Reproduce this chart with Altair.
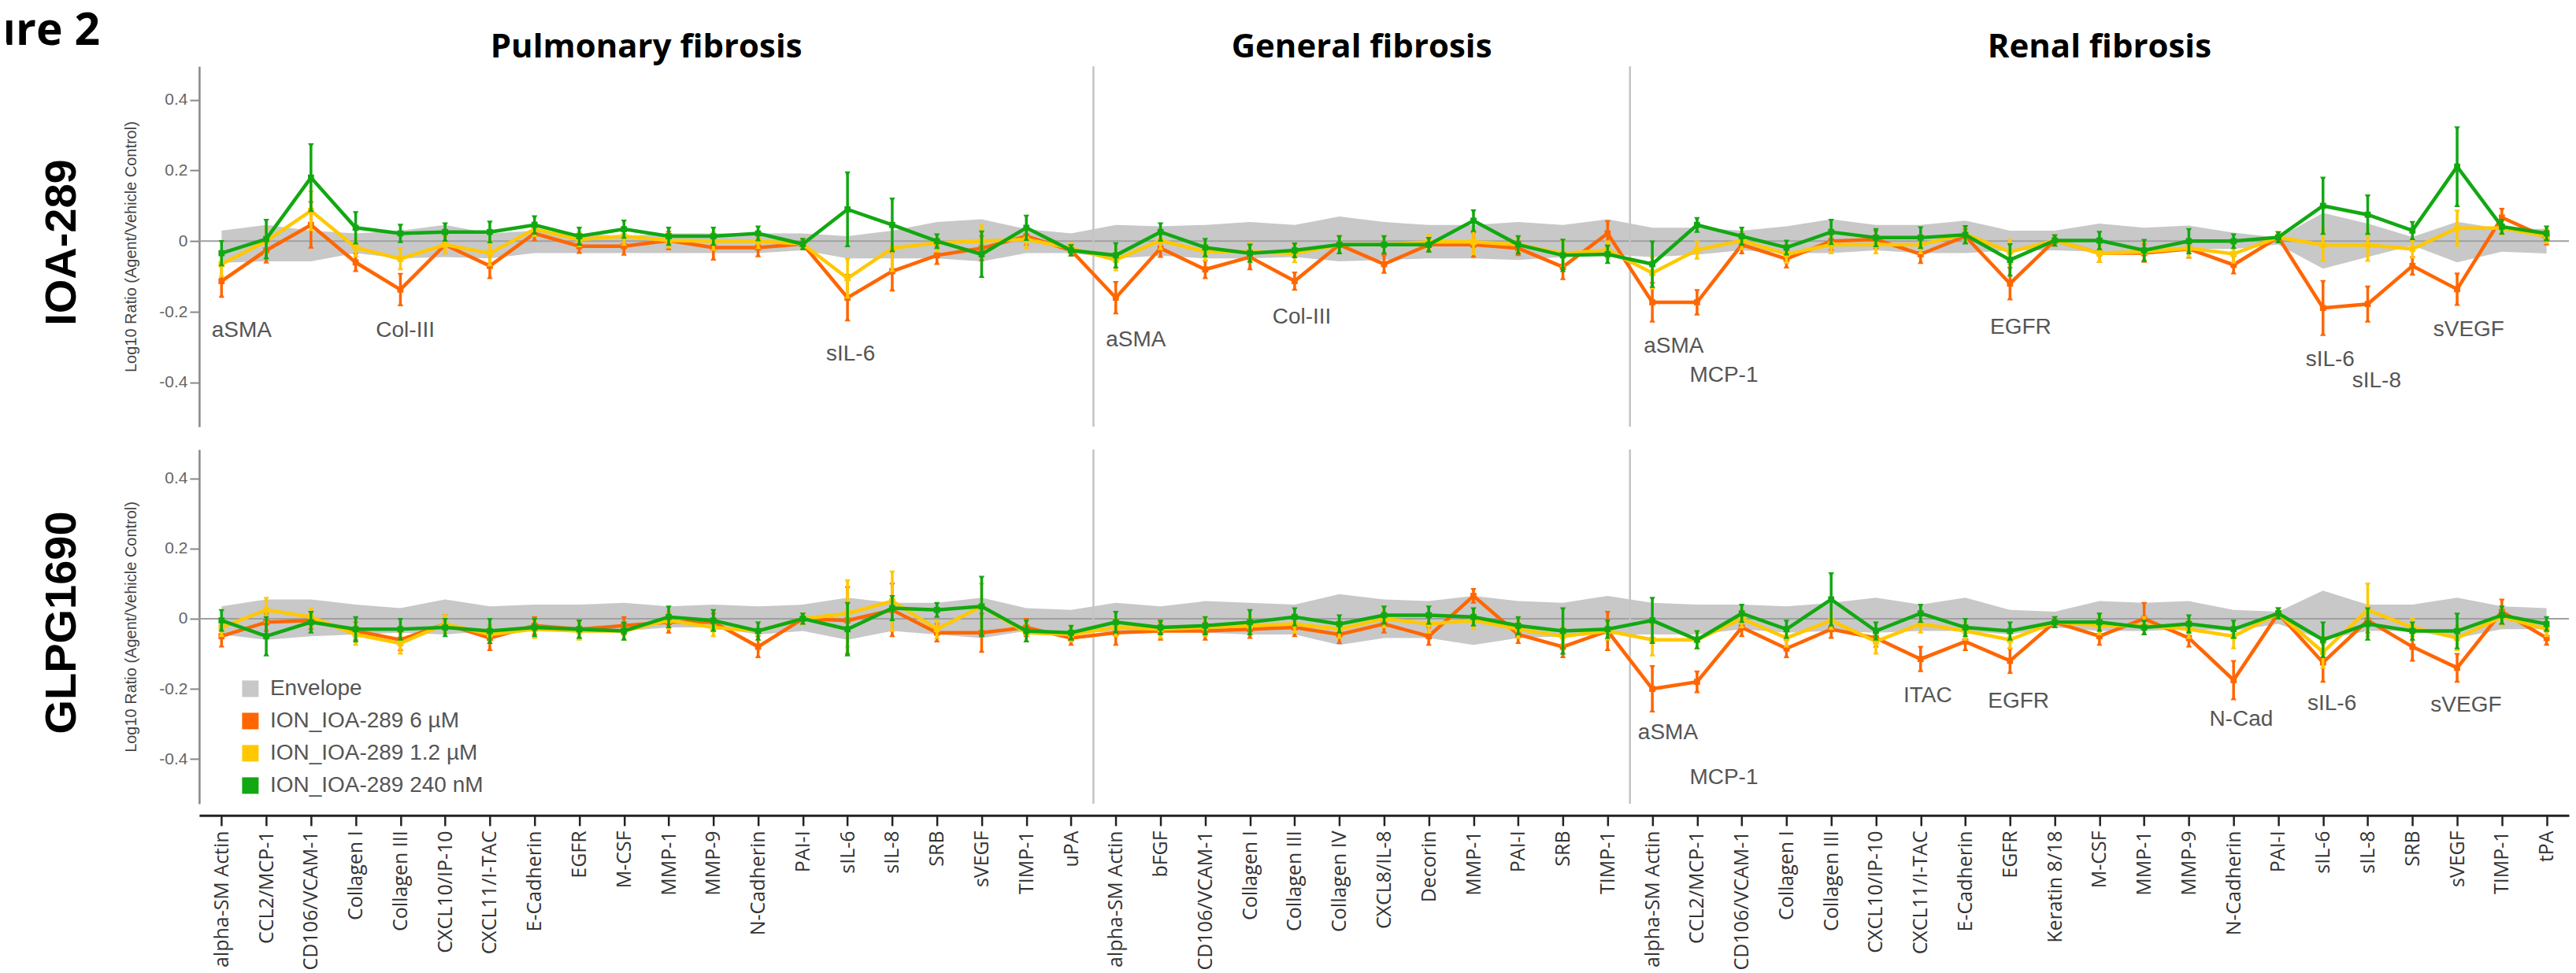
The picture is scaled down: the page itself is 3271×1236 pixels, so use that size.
import json
import altair as alt
import pandas as pd

# ---------------- categories ----------------
pulmonary = ["alpha-SM Actin", "CCL2/MCP-1", "CD106/VCAM-1", "Collagen I", "Collagen III",
             "CXCL10/IP-10", "CXCL11/I-TAC", "E-Cadherin", "EGFR", "M-CSF", "MMP-1", "MMP-9",
             "N-Cadherin", "PAI-I", "sIL-6", "sIL-8", "SRB", "sVEGF", "TIMP-1", "uPA"]
general = ["alpha-SM Actin", "bFGF", "CD106/VCAM-1", "Collagen I", "Collagen III", "Collagen IV",
           "CXCL8/IL-8", "Decorin", "MMP-1", "PAI-I", "SRB", "TIMP-1"]
renal = ["alpha-SM Actin", "CCL2/MCP-1", "CD106/VCAM-1", "Collagen I", "Collagen III",
         "CXCL10/IP-10", "CXCL11/I-TAC", "E-Cadherin", "EGFR", "Keratin 8/18", "M-CSF", "MMP-1",
         "MMP-9", "N-Cadherin", "PAI-I", "sIL-6", "sIL-8", "SRB", "sVEGF", "TIMP-1", "tPA"]
section_titles = ["Pulmonary fibrosis", "General fibrosis", "Renal fibrosis"]
series_names = ["ION_IOA-289 6 µM", "ION_IOA-289 1.2 µM", "ION_IOA-289 240 nM"]
envelope_name = "Envelope"

# ---------------- IOA-289 panel (log10 ratio) ----------------
ioa_6uM = [-0.113, -0.026, 0.046, -0.06, -0.137, -0.01, -0.07, 0.022, -0.014, -0.014,
           0.002, -0.018, -0.018, -0.008, -0.16, -0.085, -0.04, -0.02, 0.014, -0.026,
           -0.16, -0.02, -0.08, -0.045, -0.113, -0.01, -0.065, -0.01, -0.01, -0.02, -0.073, 0.022,
           -0.173, -0.173, -0.01, -0.05, 0.0, 0.005, -0.037, 0.014, -0.12, 0.002, -0.034,
           -0.034, -0.022, -0.067, 0.011, -0.189, -0.178, -0.07, -0.136, 0.067, 0.01]
ioa_1_2uM = [-0.065, 0.0, 0.086, -0.018, -0.05, -0.01, -0.034, 0.034, 0.005, 0.014,
             0.002, 0.0, 0.0, -0.008, -0.105, -0.02, -0.005, 0.0, 0.005, -0.02,
             -0.053, 0.002, -0.03, -0.03, -0.035, -0.01, -0.01, -0.002, -0.002, -0.01, -0.035, -0.025,
             -0.09, -0.025, 0.002, -0.037, -0.01, -0.01, -0.01, 0.02, -0.03, 0.002, -0.034,
             -0.03, -0.02, -0.036, 0.011, -0.011, -0.011, -0.022, 0.037, 0.037, 0.014]
ioa_240nM = [-0.034, 0.006, 0.18, 0.038, 0.022, 0.026, 0.026, 0.046, 0.014, 0.034,
             0.014, 0.014, 0.022, -0.008, 0.09, 0.046, 0.0, -0.037, 0.038, -0.026,
             -0.04, 0.026, -0.018, -0.034, -0.026, -0.01, -0.01, -0.01, 0.058, -0.01, -0.04, -0.037,
             -0.065, 0.046, 0.014, -0.018, 0.026, 0.01, 0.01, 0.018, -0.053, 0.002, 0.002,
             -0.026, 0.0, 0.0, 0.011, 0.1, 0.075, 0.03, 0.211, 0.041, 0.022]
ioa_6uM_err = [0.04, 0.03, 0.06, 0.02, 0.04, 0.02, 0.03, 0.015, 0.015, 0.02,
               0.02, 0.03, 0.02, 0.01, 0.06, 0.05, 0.02, 0.03, 0.02, 0.01,
               0.04, 0.02, 0.02, 0.03, 0.02, 0.02, 0.02, 0.015, 0.03, 0.015, 0.03, 0.03,
               0.05, 0.03, 0.02, 0.02, 0.02, 0.02, 0.02, 0.015, 0.04, 0.01, 0.02,
               0.02, 0.02, 0.02, 0.01, 0.072, 0.045, 0.02, 0.04, 0.02, 0.015]
ioa_1_2uM_err = [0.03, 0.03, 0.05, 0.02, 0.025, 0.02, 0.03, 0.015, 0.015, 0.02,
                 0.015, 0.02, 0.015, 0.01, 0.05, 0.06, 0.02, 0.04, 0.02, 0.01,
                 0.025, 0.02, 0.02, 0.02, 0.02, 0.02, 0.02, 0.015, 0.03, 0.015, 0.03, 0.02,
                 0.04, 0.02, 0.02, 0.02, 0.02, 0.02, 0.02, 0.015, 0.03, 0.01, 0.02,
                 0.02, 0.02, 0.02, 0.01, 0.04, 0.04, 0.02, 0.045, 0.015, 0.015]
ioa_240nM_err = [0.03, 0.05, 0.09, 0.04, 0.02, 0.02, 0.025, 0.02, 0.02, 0.02,
                 0.02, 0.02, 0.015, 0.01, 0.1, 0.07, 0.015, 0.06, 0.03, 0.01,
                 0.03, 0.02, 0.02, 0.02, 0.015, 0.02, 0.02, 0.015, 0.025, 0.02, 0.04, 0.02,
                 0.06, 0.015, 0.02, 0.015, 0.03, 0.02, 0.025, 0.02, 0.04, 0.01, 0.02,
                 0.025, 0.03, 0.015, 0.01, 0.075, 0.05, 0.02, 0.107, 0.015, 0.015]
ioa_env_hi = [0.03, 0.046, 0.03, 0.022, 0.03, 0.046, 0.022, 0.03, 0.022, 0.014,
              0.022, 0.022, 0.022, 0.022, 0.014, 0.03, 0.054, 0.062, 0.034, 0.022,
              0.046, 0.042, 0.046, 0.054, 0.046, 0.07, 0.054, 0.046, 0.046, 0.054, 0.046, 0.062,
              0.038, 0.038, 0.03, 0.042, 0.062, 0.046, 0.046, 0.058, 0.03, 0.03, 0.05,
              0.038, 0.044, 0.024, 0.01, 0.08, 0.05, 0.012, 0.055, 0.035, 0.035]
ioa_env_lo = [-0.061, -0.057, -0.057, -0.034, -0.049, -0.045, -0.049, -0.034, -0.034, -0.034,
              -0.034, -0.034, -0.034, -0.026, -0.049, -0.049, -0.049, -0.057, -0.034, -0.034,
              -0.049, -0.041, -0.049, -0.049, -0.045, -0.057, -0.053, -0.049, -0.049, -0.053, -0.045, -0.038,
              -0.045, -0.038, -0.026, -0.034, -0.034, -0.026, -0.034, -0.034, -0.026, -0.026, -0.03,
              -0.038, -0.022, -0.022, -0.01, -0.078, -0.045, -0.012, -0.06, -0.03, -0.035]
ioa_notes = [("aSMA", 0.45, -0.254), ("Col-III", 4.11, -0.254), ("sIL-6", 14.07, -0.319),
             ("aSMA", 20.45, -0.279), ("Col-III", 24.16, -0.216), ("aSMA", 32.48, -0.297),
             ("MCP-1", 33.6, -0.38), ("EGFR", 40.24, -0.245), ("sIL-6", 47.16, -0.336),
             ("sIL-8", 48.2, -0.396), ("sVEGF", 50.26, -0.252)]

# ---------------- GLPG1690 panel ----------------
glpg_6uM = [-0.05, -0.01, -0.005, -0.035, -0.06, -0.015, -0.055, -0.02, -0.03, -0.02,
            -0.01, -0.01, -0.08, 0.0, -0.005, 0.025, -0.04, -0.04, -0.025, -0.055,
            -0.04, -0.035, -0.035, -0.03, -0.025, -0.045, -0.015, -0.05, 0.065, -0.045, -0.08, -0.035,
            -0.2, -0.18, -0.025, -0.085, -0.03, -0.055, -0.115, -0.065, -0.12, -0.01, -0.05,
            0.0, -0.055, -0.175, 0.015, -0.125, -0.005, -0.08, -0.14, 0.02, -0.055]
glpg_1_2uM = [-0.025, 0.025, 0.005, -0.045, -0.07, -0.015, -0.045, -0.03, -0.035, -0.035,
              -0.005, -0.025, -0.035, 0.0, 0.015, 0.05, -0.03, 0.035, -0.04, -0.045,
              -0.025, -0.03, -0.025, -0.02, -0.015, -0.03, 0.0, -0.015, -0.005, -0.03, -0.05, -0.035,
              -0.06, -0.06, 0.0, -0.055, -0.005, -0.065, -0.015, -0.035, -0.06, -0.01, -0.02,
              -0.02, -0.03, -0.05, 0.015, -0.095, 0.025, -0.025, -0.055, 0.005, -0.03]
glpg_240nM = [-0.005, -0.05, -0.01, -0.03, -0.03, -0.025, -0.035, -0.025, -0.03, -0.035,
              0.005, -0.005, -0.035, 0.0, -0.03, 0.03, 0.025, 0.035, -0.035, -0.04,
              -0.01, -0.025, -0.02, -0.01, 0.005, -0.015, 0.01, 0.01, 0.005, -0.02, -0.035, -0.03,
              -0.005, -0.06, 0.015, -0.03, 0.055, -0.035, 0.015, -0.025, -0.035, -0.01, -0.01,
              -0.025, -0.015, -0.03, 0.015, -0.06, -0.015, -0.035, -0.035, 0.01, -0.015]
glpg_6uM_err = [0.025, 0.02, 0.02, 0.02, 0.025, 0.02, 0.03, 0.02, 0.02, 0.02,
                0.025, 0.02, 0.025, 0.01, 0.09, 0.07, 0.02, 0.05, 0.02, 0.015,
                0.03, 0.02, 0.02, 0.02, 0.02, 0.02, 0.02, 0.02, 0.015, 0.02, 0.025, 0.05,
                0.06, 0.025, 0.02, 0.02, 0.02, 0.02, 0.03, 0.02, 0.03, 0.01, 0.02,
                0.04, 0.02, 0.05, 0.01, 0.05, 0.03, 0.035, 0.035, 0.03, 0.015]
glpg_1_2uM_err = [0.02, 0.03, 0.02, 0.025, 0.025, 0.02, 0.02, 0.02, 0.02, 0.02,
                  0.02, 0.02, 0.02, 0.01, 0.09, 0.08, 0.02, 0.06, 0.02, 0.015,
                  0.02, 0.02, 0.02, 0.02, 0.02, 0.02, 0.02, 0.02, 0.02, 0.02, 0.02, 0.02,
                  0.04, 0.02, 0.02, 0.02, 0.02, 0.03, 0.02, 0.02, 0.02, 0.01, 0.02,
                  0.02, 0.02, 0.03, 0.01, 0.04, 0.07, 0.02, 0.03, 0.02, 0.015]
glpg_240nM_err = [0.025, 0.05, 0.025, 0.03, 0.025, 0.02, 0.03, 0.02, 0.02, 0.02,
                  0.025, 0.025, 0.02, 0.01, 0.07, 0.03, 0.015, 0.08, 0.025, 0.015,
                  0.025, 0.015, 0.02, 0.03, 0.02, 0.02, 0.02, 0.02, 0.02, 0.02, 0.06, 0.02,
                  0.06, 0.02, 0.02, 0.02, 0.07, 0.02, 0.02, 0.02, 0.02, 0.01, 0.02,
                  0.015, 0.02, 0.02, 0.01, 0.045, 0.04, 0.02, 0.045, 0.02, 0.015]
glpg_env_hi = [0.035, 0.055, 0.055, 0.04, 0.03, 0.055, 0.035, 0.04, 0.04, 0.045,
               0.035, 0.04, 0.035, 0.04, 0.06, 0.045, 0.045, 0.06, 0.03, 0.025,
               0.045, 0.035, 0.05, 0.045, 0.04, 0.07, 0.055, 0.05, 0.065, 0.05, 0.045, 0.065,
               0.045, 0.04, 0.04, 0.035, 0.045, 0.06, 0.04, 0.06, 0.025, 0.02, 0.05,
               0.045, 0.05, 0.025, 0.02, 0.08, 0.04, 0.04, 0.06, 0.035, 0.03]
glpg_env_lo = [-0.045, -0.06, -0.05, -0.045, -0.04, -0.045, -0.035, -0.035, -0.035, -0.035,
               -0.025, -0.025, -0.045, -0.035, -0.06, -0.035, -0.045, -0.055, -0.035, -0.035,
               -0.04, -0.035, -0.04, -0.045, -0.045, -0.075, -0.055, -0.055, -0.075, -0.055, -0.05, -0.045,
               -0.045, -0.045, -0.03, -0.04, -0.035, -0.04, -0.035, -0.035, -0.045, -0.025, -0.035,
               -0.035, -0.03, -0.035, -0.015, -0.06, -0.035, -0.035, -0.055, -0.03, -0.03]
glpg_notes = [("aSMA", 32.35, -0.326), ("MCP-1", 33.6, -0.453), ("ITAC", 38.16, -0.219),
              ("EGFR", 40.19, -0.236), ("N-Cad", 45.17, -0.288), ("sIL-6", 47.2, -0.243),
              ("sVEGF", 50.2, -0.247)]

# ---------------- styling ----------------
series_colors = ["#FF6600", "#FFC800", "#12A812"]
envelope_color = "#C8C8C8"
analytes = pulmonary + general + renal
N = len(analytes)
W = 3010

X_SCALE = alt.Scale(domain=[-0.5, N - 0.5], nice=False, zero=False)
label_expr = json.dumps(analytes) + "[datum.value]"
x_axis_bottom = alt.Axis(values=list(range(N)), labelExpr=label_expr, title=None, offset=15,
                         domainColor="#222", domainWidth=3, tickColor="#222", tickWidth=2.5,
                         tickSize=13, labelAngle=270, labelFont="Open Sans", labelFontSize=25,
                         labelColor="#333", labelPadding=6, grid=False, labelOverlap=False,
                         labelBound=False, labelFlush=False, labelLimit=0)


def y_axis():
    return alt.Axis(values=[-0.4, -0.2, 0, 0.2, 0.4], labelExpr="'' + datum.value",
                    title="Log10 Ratio (Agent/Vehicle Control)", titleFontSize=20,
                    titleFont="Liberation Sans", titleFontWeight="normal", titleColor="#444",
                    titlePadding=25, labelFont="Liberation Sans", labelFontSize=21,
                    labelColor="#666", tickColor="#888", tickWidth=2, tickSize=12,
                    domainColor="#888", domainWidth=2.5, grid=False, labelPadding=3)


def build_panel(label, series_vals, series_errs, env_lo, env_hi, notes, ydomain, height,
                label_y, is_top):
    yscale = alt.Scale(domain=ydomain, nice=False, zero=False)
    xaxis = None if is_top else x_axis_bottom

    def X():
        return alt.X("idx:Q", scale=X_SCALE, axis=xaxis)

    def Y(field):
        return alt.Y(f"{field}:Q", scale=yscale, axis=y_axis())

    layers = []
    # invisible anchor keeping the left/top extent identical in both panels
    anchor_y = -76 if is_top else 0
    layers.append(alt.Chart(pd.DataFrame({"a": [0]})).mark_rule(opacity=0).encode(
        x=alt.value(-400), x2=alt.value(-399), y=alt.value(anchor_y), y2=alt.value(anchor_y + 1)))

    env_df = pd.DataFrame({"idx": list(range(N)), "lo": env_lo, "hi": env_hi,
                           "series": [envelope_name] * N})
    if is_top:
        area = alt.Chart(env_df).mark_area(color=envelope_color, opacity=1).encode(
            x=X(), y=Y("lo"), y2="hi")
    else:
        legend = alt.Legend(title=None, orient="none", legendX=51, legendY=290,
                            direction="vertical", symbolType="square", symbolSize=441,
                            symbolStrokeWidth=0, symbolOpacity=1, labelFont="Liberation Sans",
                            labelFontSize=28, labelColor="#555", labelOffset=11, rowPadding=13,
                            padding=0, labelLimit=0)
        area = alt.Chart(env_df).mark_area(opacity=1).encode(
            x=X(), y=Y("lo"), y2="hi",
            color=alt.Color("series:N",
                            scale=alt.Scale(domain=[envelope_name] + series_names,
                                            range=[envelope_color] + series_colors),
                            legend=legend))
    layers.append(area)

    layers.append(alt.Chart(pd.DataFrame({"v": [0.0]})).mark_rule(
        color="#A0A0A0", strokeWidth=2).encode(y=Y("v")))

    seps = pd.DataFrame({"idx": [len(pulmonary) - 0.5, len(pulmonary) + len(general) - 0.5]})
    layers.append(alt.Chart(seps).mark_rule(color="#C4C4C4", strokeWidth=2.5).encode(x=X()))

    for vals, errs, color in zip(series_vals, series_errs, series_colors):
        df = pd.DataFrame({"idx": list(range(N)), "analyte": analytes, "v": vals,
                           "lo": [v - e for v, e in zip(vals, errs)],
                           "hi": [v + e for v, e in zip(vals, errs)]})
        base = alt.Chart(df)
        layers.append(base.mark_rule(color=color, strokeWidth=3.5).encode(
            x=X(), y=Y("lo"), y2="hi"))
        layers.append(base.mark_point(shape="triangle-down", filled=True, size=55, color=color,
                                      opacity=1).encode(x=X(), y=Y("hi")))
        layers.append(base.mark_point(shape="triangle-up", filled=True, size=55, color=color,
                                      opacity=1).encode(x=X(), y=Y("lo")))
        layers.append(base.mark_line(color=color, strokeWidth=4.5).encode(x=X(), y=Y("v")))
        layers.append(base.mark_square(color=color, size=60, opacity=1).encode(x=X(), y=Y("v")))

    notes_df = pd.DataFrame(notes, columns=["note", "idx", "v"])
    layers.append(alt.Chart(notes_df).mark_text(
        font="Liberation Sans", fontSize=28, color="#555", align="center",
        baseline="middle").encode(x=X(), y=Y("v"), text="note:N"))

    layers.append(alt.Chart(pd.DataFrame({"label": [label]})).mark_text(
        angle=270, font="Liberation Sans", fontWeight="bold", fontSize=56, color="black",
        align="center", baseline="middle").encode(
        x=alt.value(-174), y=alt.value(label_y), text="label:N"))

    if is_top:
        starts = [0, len(pulmonary), len(pulmonary) + len(general)]
        lens = [len(pulmonary), len(general), len(renal)]
        heads = pd.DataFrame({"title": section_titles,
                              "idx": [s + (n - 1) / 2 for s, n in zip(starts, lens)]})
        layers.append(alt.Chart(heads).mark_text(
            font="Open Sans", fontWeight="bold", fontSize=42, color="black", align="center",
            baseline="alphabetic").encode(x=X(), y=alt.value(-11), text="title:N"))
        layers.append(alt.Chart(pd.DataFrame({"t": ["Figure 2"]})).mark_text(
            font="Open Sans", fontWeight="bold", fontSize=57, color="black", align="right",
            baseline="alphabetic").encode(x=alt.value(-126), y=alt.value(-27), text="t:N"))

    return alt.layer(*layers).properties(width=W, height=height)


top = build_panel("IOA-289", [ioa_6uM, ioa_1_2uM, ioa_240nM],
                  [ioa_6uM_err, ioa_1_2uM_err, ioa_240nM_err], ioa_env_lo, ioa_env_hi,
                  ioa_notes, [-0.525, 0.495], 458, 224, True)
bottom = build_panel("GLPG1690", [glpg_6uM, glpg_1_2uM, glpg_240nM],
                     [glpg_6uM_err, glpg_1_2uM_err, glpg_240nM_err], glpg_env_lo, glpg_env_hi,
                     glpg_notes, [-0.527, 0.482], 450, 220, False)

chart = alt.vconcat(top, bottom, spacing=25).resolve_legend(color="independent").properties(
    padding={"left": -155, "top": 0, "right": 0, "bottom": 0}
).configure_view(stroke=None)

chart.save("out.html", embed_options={"renderer": "svg", "actions": False})
